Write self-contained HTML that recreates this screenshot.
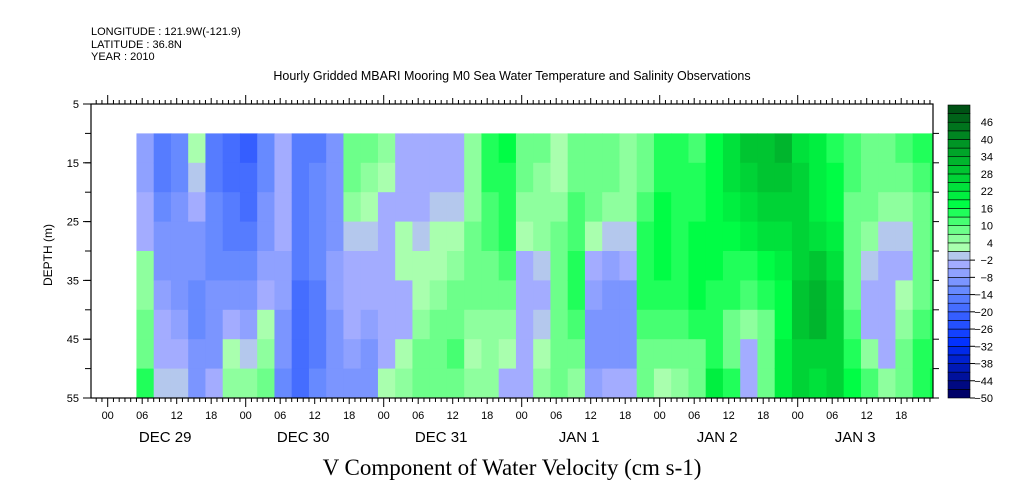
<!DOCTYPE html>
<html><head><meta charset="utf-8"><style>
body{margin:0;background:#fff;}
svg{display:block;font-family:"Liberation Sans",sans-serif;}
</style></head><body>
<svg id="chart" width="1009" height="504" viewBox="0 0 1009 504" xmlns="http://www.w3.org/2000/svg">
<g font-size="11" fill="#000">
<text x="91" y="35">LONGITUDE : 121.9W(-121.9)</text>
<text x="91" y="48">LATITUDE : 36.8N</text>
<text x="91" y="60">YEAR : 2010</text>
<text x="512" y="80" text-anchor="middle" font-size="12.5">Hourly Gridded MBARI Mooring M0 Sea Water Temperature and Salinity Observations</text>
</g>
<g id="cells"></g>
<g id="axes"></g>
<g id="cbar"></g>
<text x="512" y="475" text-anchor="middle" font-family="Liberation Serif, serif" font-size="23">V Component of Water Velocity (cm s-1)</text>
<text x="0" y="0" transform="translate(52,255) rotate(-90)" text-anchor="middle" font-size="12">DEPTH (m)</text>
</svg>
<script>
// hours since Dec 29 00:00, each column spans 3 hours
const colStartHour = 5;
const colHours = 3;
const depthBands = [10,15,20,25,30,35,40,45,50,55];
const values = [
[-8,-8,-6,-4,3,5,6,8,12],
[-16,-16,-14,-12,-10,-8,-6,-5,-3],
[-14,-14,-12,-12,-12,-10,-8,-6,-2],
[2,-2,-6,-10,-12,-14,-14,-12,-10],
[-18,-16,-14,-14,-14,-12,-12,-10,-6],
[-20,-20,-18,-16,-14,-10,-6,2,4],
[-22,-20,-20,-18,-14,-10,-8,-2,4],
[-14,-14,-12,-10,-8,-4,2,4,6],
[-6,-6,-4,-4,-8,-8,-10,-12,-14],
[-18,-16,-16,-16,-18,-20,-20,-20,-20],
[-16,-14,-14,-14,-14,-16,-16,-16,-14],
[-10,-10,-10,-10,-8,-8,-10,-10,-10],
[8,6,4,-2,-4,-4,-6,-8,-10],
[6,4,2,-2,-6,-6,-8,-10,-10],
[4,2,-4,-6,-6,-6,-6,-6,2],
[-4,-4,-4,2,2,-4,-4,2,4],
[-4,-4,-4,-2,2,2,4,6,6],
[-4,-4,-2,2,2,4,6,6,6],
[-4,-4,-2,2,4,6,8,10,8],
[4,4,4,6,6,6,4,2,4],
[14,12,10,10,8,6,4,4,4],
[16,14,12,12,10,8,4,2,-4],
[8,6,4,2,-4,-6,-6,-6,-4],
[6,4,4,4,-2,-4,-2,2,4],
[2,2,4,6,8,8,8,8,6],
[8,8,10,10,12,12,10,8,4],
[8,6,6,2,-6,-8,-10,-10,-8],
[6,6,4,-2,-8,-10,-12,-12,-6],
[4,4,4,-2,-6,-10,-12,-10,-6],
[6,8,10,12,14,12,10,8,6],
[12,14,16,16,16,14,10,6,2],
[12,12,14,14,14,14,10,6,4],
[10,14,14,16,16,16,12,8,6],
[16,16,16,16,16,14,12,14,18],
[22,22,18,16,14,12,8,8,14],
[28,26,22,18,14,10,4,-4,-6],
[28,28,26,22,16,12,8,6,6],
[30,28,26,22,20,16,16,18,20],
[22,24,24,24,26,28,28,26,24],
[18,18,20,22,28,32,30,26,22],
[14,16,16,18,22,24,24,26,26],
[10,10,8,6,6,8,10,14,16],
[6,6,6,4,-2,-6,-4,4,10],
[8,6,4,-2,-6,-6,-6,-4,4],
[10,8,4,-2,-4,2,4,6,8],
[12,10,8,6,6,8,10,12,14],
[12,12,10,10,10,10,12,14,16]
];
const yTicks = [5,15,25,35,45,55];
const dayLabels = ["DEC 29","DEC 30","DEC 31","JAN  1","JAN  2","JAN  3"];
const hourLabels = ["00","06","12","18"];
const cbarLabels = [46,40,34,28,22,16,10,4,-2,-8,-14,-20,-26,-32,-38,-44,-50];

const NS="http://www.w3.org/2000/svg";
const X0=91,X1=933,Y0=104,Y1=398;
const H0=-2.9,H1=143.5;
const xs=h=>107.7+h*5.75;
const ys=d=>Y0+(d-5)*(Y1-Y0)/50;
function mk(tag,attrs,parent){const e=document.createElementNS(NS,tag);for(const k in attrs)e.setAttribute(k,attrs[k]);parent.appendChild(e);return e;}
const stops=[[-50,[0,0,100]],[-32,[0,48,255]],[-14,[100,136,255]],[-2,[180,182,255]],[0.01,[182,255,182]],[6,[128,255,150]],[16,[0,255,70]],[28,[0,200,50]],[40,[0,136,34]],[52,[0,68,17]]];
function color(v){
  const q=Math.floor(v/3)*3+1.5;v=Math.max(-50,Math.min(52,q));
  for(let i=0;i<stops.length-1;i++){const [a,ca]=stops[i],[b,cb]=stops[i+1];
    if(v<=b){const t=(v-a)/(b-a);return `rgb(${ca.map((c,j)=>Math.round(c+(cb[j]-c)*t)).join(',')})`;}}
  return 'rgb(0,68,17)';
}
const cells=document.getElementById('cells');
values.forEach((col,k)=>{
  const h0=colStartHour+k*colHours,h1=Math.min(h0+colHours,H1);
  col.forEach((v,r)=>{
    const x=xs(h0),w=xs(h1)-x+0.5,y=ys(depthBands[r]),hh=ys(depthBands[r+1])-y+0.5;
    const e=mk('rect',{x:x,y:y,width:w,height:hh,fill:color(v)},cells);
    
    
  });
});
const ax=document.getElementById('axes');
const fr=mk('rect',{x:X0,y:Y0,width:X1-X0,height:Y1-Y0,fill:'none',stroke:'#000','stroke-width':1.2},ax);


for(let h=-2;h<=143;h++){
  const x=xs(h);const m=((h%24)+24)%24;const len=m===0?9:(m%6===0?6:4);
  mk('line',{x1:x,x2:x,y1:Y0,y2:Y0-len,stroke:'#000'},ax);
  mk('line',{x1:x,x2:x,y1:Y1,y2:Y1+len,stroke:'#000'},ax);
  if(m%6===0){
    const t=mk('text',{x:x,y:419,'text-anchor':'middle','font-size':11},ax);
    t.textContent=hourLabels[m/6];
    
    
  }
}
dayLabels.forEach((d,i)=>{
  const t=mk('text',{x:xs(i*24+10),y:442,'text-anchor':'middle','font-size':15,'xml:space':'preserve'},ax);
  t.textContent=d;
  
  
});
for(let d=10;d<=55;d+=5){mk('line',{x1:X0-6,x2:X0,y1:ys(d),y2:ys(d),stroke:'#000'},ax);mk('line',{x1:X1,x2:X1+6,y1:ys(d),y2:ys(d),stroke:'#000'},ax);}
yTicks.forEach(d=>{
  mk('line',{x1:X0-8,x2:X0,y1:ys(d),y2:ys(d),stroke:'#000'},ax);
  const t=mk('text',{x:X0-12,y:ys(d)+4,'text-anchor':'end','font-size':11},ax);
  t.textContent=d;
  
  
});
const cb=document.getElementById('cbar');
const CB0=105,CB1=398,cv=v=>CB1-(v+50)*(CB1-CB0)/102;
for(let v=-50;v<52;v+=3){
  const e=mk('rect',{x:948,y:cv(v+3),width:22,height:cv(v)-cv(v+3),fill:color(v+1),stroke:'#000','stroke-width':0.6},cb);
  
  
}
cbarLabels.forEach(v=>{
  if(v<0)mk('line',{x1:970,x2:975,y1:cv(v),y2:cv(v),stroke:'#000'},cb);
  const t=mk('text',{x:993,y:cv(v)+4,'text-anchor':'end','font-size':11},cb);
  t.textContent=v<0?'\u2212'+(-v):v;
  
  
});
</script>
</body></html>
